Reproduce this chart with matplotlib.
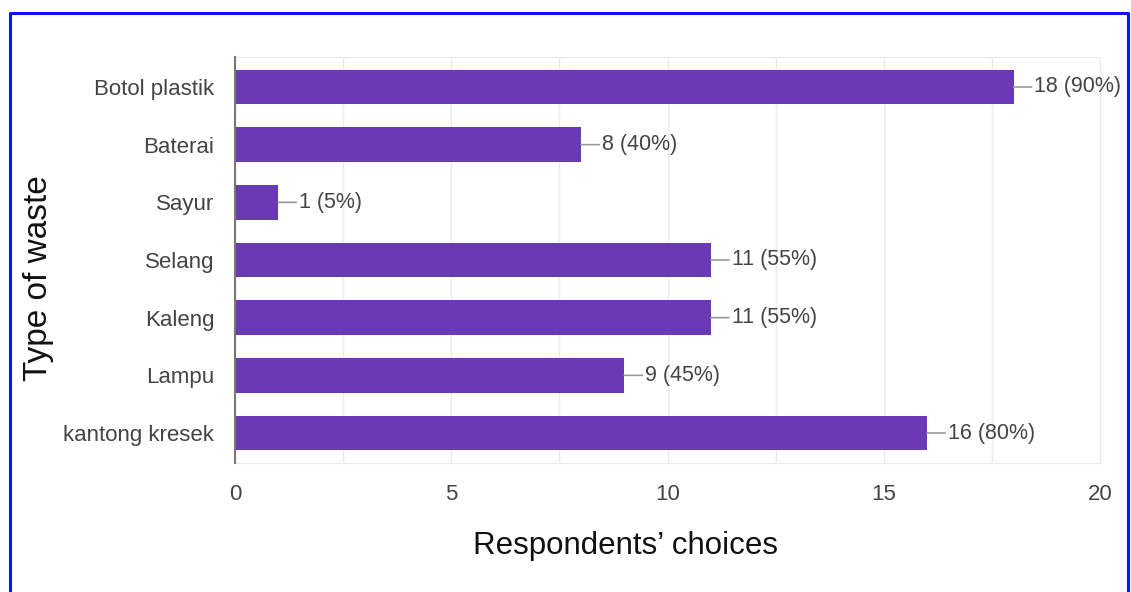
import matplotlib.pyplot as plt
from matplotlib.lines import Line2D

categories = ['Botol plastik', 'Baterai', 'Sayur', 'Selang', 'Kaleng', 'Lampu', 'kantong kresek']
counts = [18, 8, 1, 11, 11, 9, 16]
percents = [90, 40, 5, 55, 55, 45, 80]
x_ticks = [0, 5, 10, 15, 20]

plt.rcParams['font.family'] = ['Liberation Sans', 'DejaVu Sans']

fig = plt.figure(figsize=(11.31, 5.92), dpi=100, facecolor='w')
ax = fig.add_axes([235 / 1131, 1 - 463 / 592, 865 / 1131, 406 / 592])

y = list(range(len(categories)))
ax.barh(y, counts, height=0.6, color='#6a39b4', zorder=3)

for i, (c, p) in enumerate(zip(counts, percents)):
    ax.annotate(f'{c} ({p}%)', xy=(c, i), xytext=(21, 0), textcoords='offset pixels',
                ha='left', va='center', fontsize=15.5, color='#444444',
                arrowprops=dict(arrowstyle='-', color='#999999', lw=1.2,
                                shrinkA=0, shrinkB=0, relpos=(0, 0.5)))

ax.set_xlim(0, 20)
ax.set_ylim(6.52, -0.52)
ax.set_yticks(y)
ax.set_yticklabels(categories)
ax.set_xticks(x_ticks)
ax.set_xticks([2.5, 7.5, 12.5, 17.5], minor=True)
ax.tick_params(axis='both', which='both', length=0, labelsize=16, labelcolor='#444444')
ax.tick_params(axis='x', pad=15)
ax.tick_params(axis='y', pad=15)

ax.grid(axis='x', which='both', color='#ebebeb', lw=1, zorder=0)
for s in ['top', 'right', 'bottom']:
    ax.spines[s].set_color('#ebebeb')
ax.spines['left'].set_color('#777777')
ax.spines['left'].set_linewidth(1.5)
ax.spines['left'].set_zorder(4)

ax.set_xlabel('Respondents\u2019 choices', fontsize=22.5, color='#111111', labelpad=19)
ax.set_ylabel('Type of waste', fontsize=24, color='#111111', labelpad=6.5)
# titles sit a little off the axes centre in the reference
ax.xaxis.label.set_x(0.4515)
ax.yaxis.label.set_y(0.4557)

# blue frame round the figure, open at the bottom
fx = [10 / 1131, 10 / 1131, 1128 / 1131, 1128 / 1131]
fy = [0, 1 - 13 / 592, 1 - 13 / 592, 0]
fig.add_artist(Line2D(fx, fy, color='#1010ff', lw=2.2, transform=fig.transFigure))

fig.savefig('out.png', dpi=100)
